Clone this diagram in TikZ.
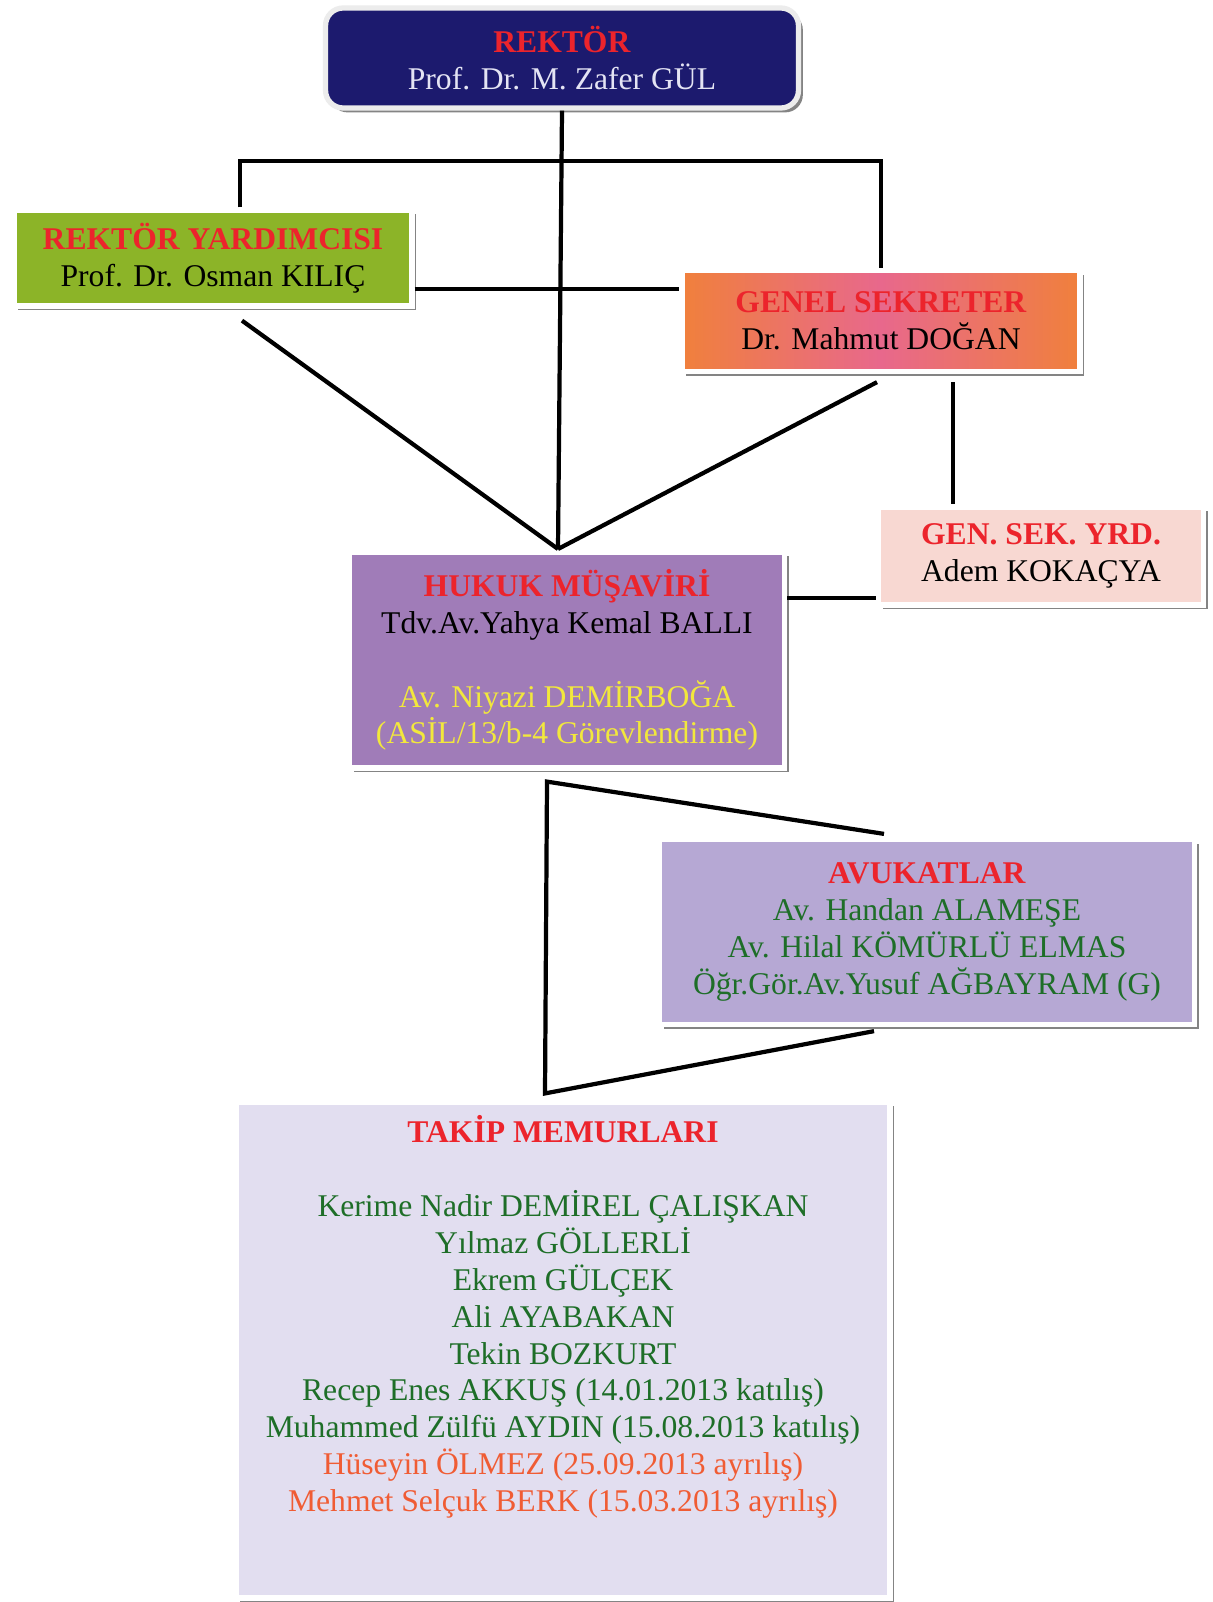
\documentclass[tikz,border=0pt]{standalone}
\usepackage{fontspec}
\setmainfont{Liberation Serif}
\usepackage{tikz}
\usetikzlibrary{shapes,calc,shadows,positioning}
\definecolor{navy}{RGB}{28,26,110}
\definecolor{paleblue}{RGB}{228,228,244}
\definecolor{titlered}{RGB}{236,36,44}
\definecolor{olive}{RGB}{140,180,40}
\definecolor{gsorange}{RGB}{240,128,60}
\definecolor{gspink}{RGB}{232,104,140}
\definecolor{lilac}{RGB}{160,124,184}
\definecolor{blush}{RGB}{248,216,210}
\definecolor{lavender}{RGB}{182,168,212}
\definecolor{mist}{RGB}{226,222,240}
\definecolor{namegreen}{RGB}{30,110,40}
\definecolor{leftred}{RGB}{240,92,52}
\definecolor{mustard}{RGB}{242,232,60}
\tikzstyle{unit} = [rectangle, draw=white, line width=3pt, align=center, font=\fontsize{18}{21}\selectfont, drop shadow={shadow xshift=2.5pt, shadow yshift=-2.5pt, fill=black!60, opacity=0.8}]
\tikzstyle{line} = [draw, line width=2.4pt]
\newcommand{\baslik}[1]{\textcolor{titlered}{\textbf{#1}}}

\begin{document}
\begin{tikzpicture}[x=0.02cm, y=-0.02cm]
  \useasboundingbox (0,0) rectangle (1213,1602);
  \fill[white] (0,0) rectangle (1213,1602);

  \node [unit, rounded corners=10pt, fill=navy, draw=white!85!gray, text=paleblue, minimum width=9.46cm, minimum height=2cm] (rektor) at (562,58) {\baslik{REKTÖR}\\Prof. Dr. M. Zafer GÜL};
  \node [unit, fill=olive, minimum width=7.96cm, minimum height=1.92cm] (ryrd) at (213,258) {\baslik{REKTÖR YARDIMCISI}\\Prof. Dr. Osman KILIÇ};
  \node [unit, left color=gsorange, right color=gsorange, middle color=gspink, minimum width=7.96cm, minimum height=2.02cm] (gensek) at (881,321) {\baslik{GENEL SEKRETER}\\Dr. Mahmut DOĞAN};
  \node [unit, fill=lilac, minimum width=8.7cm, minimum height=4.32cm] (hukuk) at (567,660) {\baslik{HUKUK MÜŞAVİRİ}\\Tdv.Av.Yahya Kemal BALLI\\[21pt]\textcolor{mustard}{Av. Niyazi DEMİRBOĞA}\\\textcolor{mustard}{(ASİL/13/b-4 Görevlendirme)}};
  \node [unit, fill=blush, minimum width=6.5cm, minimum height=1.96cm] (gsyrd) at (1041,556) {\baslik{GEN. SEK. YRD.}\\Adem KOKAÇYA};
  \node [unit, fill=lavender, text=namegreen, minimum width=10.7cm, minimum height=3.7cm] (avukat) at (927,932) {\baslik{AVUKATLAR}\\Av. Handan ALAMEŞE\\Av. Hilal KÖMÜRLÜ ELMAS\\Öğr.Gör.Av.Yusuf AĞBAYRAM (G)};
  \node [unit, fill=mist, minimum width=13.08cm, minimum height=9.92cm] (takip) at (563,1350) {};
  \node [below=9pt of takip.north, inner sep=0pt, align=center, text=namegreen, font=\fontsize{18}{21}\selectfont] (takiplist) {\baslik{TAKİP MEMURLARI}\\[21pt]Kerime Nadir DEMİREL ÇALIŞKAN\\Yılmaz GÖLLERLİ\\Ekrem GÜLÇEK\\Ali AYABAKAN\\Tekin BOZKURT\\Recep Enes AKKUŞ (14.01.2013 katılış)\\Muhammed Zülfü AYDIN (15.08.2013 katılış)\\\textcolor{leftred}{Hüseyin ÖLMEZ (25.09.2013 ayrılış)}\\\textcolor{leftred}{Mehmet Selçuk BERK (15.03.2013 ayrılış)}};

  \coordinate (apex) at (558,549);
  \coordinate (bar) at (560,161);
  \coordinate (gsdrop) at ($(gensek.south)+(72,8)$);
  \coordinate (hmfoot) at ($(hukuk.south)+(-20,11)$);
  \coordinate (tmtop) at ($(takip.north)+(-18,-6)$);

  \path [line] (rektor.south) -- (apex);
  \path [line] ($(ryrd.north)+(27,0)$) |- (bar) -| (gensek.north);
  \path [line] (ryrd.east |- 0,289) -- (gensek.west |- 0,289);
  \path [line] ($(ryrd.south)+(29,12)$) -- (apex);
  \path [line] ($(gensek.south)+(-4,8)$) -- (apex);
  \path [line] (gsdrop) -- (gsdrop |- gsyrd.north);
  \path [line] (hukuk.east |- 0,598) -- (gsyrd.west |- 0,598);
  \path [line] ($(avukat.north)+(-43,-3)$) -- (hmfoot) -- (tmtop) -- ($(avukat.south)+(-53,4)$);
\end{tikzpicture}
\end{document}
